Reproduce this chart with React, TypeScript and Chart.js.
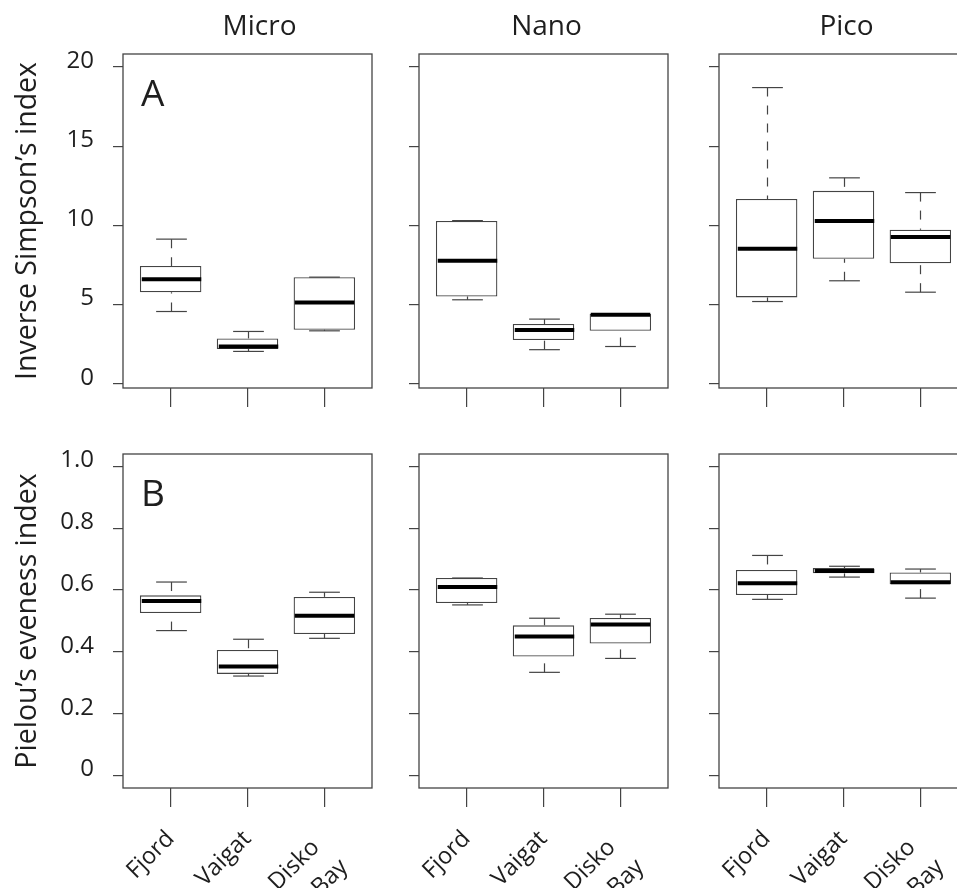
import React, { useEffect, useRef } from 'react';
import { Chart, registerables } from 'chart.js';

Chart.register(...registerables);

// ---------- data ----------
const COLUMNS = ['Micro', 'Nano', 'Pico'];
const GROUPS = ['Fjord', 'Vaigat', 'Disko Bay'];
const PANEL_LETTERS = ['A', 'B'];
const Y_TITLES = ['Inverse Simpson\u2019s index', 'Pielou\u2019s eveness index'];

const SIMPSON_TICKS = [0, 5, 10, 15, 20];
const SIMPSON_TICK_LABELS = ['0', '5', '10', '15', '20'];
const PIELOU_TICKS = [0, 0.2, 0.4, 0.6, 0.8, 1.0];
const PIELOU_TICK_LABELS = ['0', '0.2', '0.4', '0.6', '0.8', '1.0'];

// stats per group: [lower whisker, Q1, median, Q3, upper whisker]
const MICRO_SIMPSON = [
  [4.56, 5.78, 6.6, 7.44, 9.13],
  [2.04, 2.19, 2.35, 2.86, 3.3],
  [3.34, 3.41, 5.13, 6.73, 6.73],
];
const NANO_SIMPSON = [
  [5.3, 5.51, 7.76, 10.28, 10.3],
  [2.15, 2.76, 3.39, 3.77, 4.08],
  [2.35, 3.34, 4.35, 4.42, 4.42],
];
const PICO_SIMPSON = [
  [5.19, 5.45, 8.52, 11.67, 18.7],
  [6.5, 7.89, 10.28, 12.18, 13.0],
  [5.78, 7.61, 9.27, 9.72, 12.07],
];
const MICRO_PIELOU = [
  [0.469, 0.526, 0.565, 0.583, 0.626],
  [0.322, 0.329, 0.353, 0.406, 0.441],
  [0.444, 0.458, 0.517, 0.578, 0.593],
];
const NANO_PIELOU = [
  [0.552, 0.558, 0.61, 0.639, 0.639],
  [0.334, 0.385, 0.45, 0.486, 0.509],
  [0.379, 0.427, 0.489, 0.51, 0.522],
];
const PICO_PIELOU = [
  [0.57, 0.584, 0.622, 0.665, 0.712],
  [0.642, 0.654, 0.662, 0.671, 0.677],
  [0.574, 0.619, 0.625, 0.657, 0.668],
];

// ---------- styling / layout ----------
const FONT = "'Open Sans', 'DejaVu Sans', sans-serif";
const TEXT = '#1e1e1e';
const LINE = '#444444';
// trailing spaces nudge the two-line rotated label back along its baseline
const LABEL_PAD = ['  ', ' '];

const COL_LAYOUT = [
  { left: 0, width: 380, plotLeft: 123, titleDx: 12 },
  { left: 380, width: 300, plotLeft: 39, titleDx: 3 },
  { left: 680, width: 300, plotLeft: 39, titleDx: 3 },
];
const PLOT_W = 249;
const ROW_LAYOUT = [
  { top: 0, height: 420, padTop: 54, xh: 32, ymin: -0.27, ymax: 20.82 },
  { top: 420, height: 468, padTop: 34, xh: 100, ymin: -0.04, ymax: 1.04 },
];

const boxPlugin = {
  id: 'boxWhisker',
  afterDatasetsDraw(chart: any, _args: any, opts: any) {
    const { ctx } = chart;
    const x = chart.scales.x;
    const y = chart.scales.y;
    const stats: number[][] = opts.stats || [];
    const seg = (x1: number, y1: number, x2: number, y2: number) => {
      ctx.beginPath();
      ctx.moveTo(x1, y1);
      ctx.lineTo(x2, y2);
      ctx.stroke();
    };
    ctx.save();
    stats.forEach((s, i) => {
      const cx = Math.round(x.getPixelForValue(i + 1)) + 0.5;
      const halfBox = x.getPixelForValue(i + 1.4) - x.getPixelForValue(i + 1);
      const halfCap = x.getPixelForValue(i + 1.2) - x.getPixelForValue(i + 1);
      const yLo = y.getPixelForValue(s[0]);
      const yQ1 = y.getPixelForValue(s[1]);
      const yMed = y.getPixelForValue(s[2]);
      const yQ3 = y.getPixelForValue(s[3]);
      const yHi = y.getPixelForValue(s[4]);
      ctx.strokeStyle = LINE;
      ctx.lineWidth = 1.2;
      ctx.setLineDash([9, 9]);
      if (yQ3 - yHi > 1) seg(cx, yHi, cx, yQ3);
      if (yLo - yQ1 > 1) seg(cx, yLo, cx, yQ1);
      ctx.setLineDash([]);
      seg(cx - halfCap, yHi, cx + halfCap, yHi);
      seg(cx - halfCap, yLo, cx + halfCap, yLo);
      ctx.strokeStyle = '#000';
      ctx.lineWidth = 4;
      seg(cx - halfBox + 1, yMed, cx + halfBox - 1, yMed);
    });
    ctx.restore();
  },
};

const framePlugin = {
  id: 'frameText',
  afterDraw(chart: any, _args: any, opts: any) {
    const { ctx, chartArea: a } = chart;
    ctx.save();
    ctx.strokeStyle = LINE;
    ctx.lineWidth = 1.3;
    ctx.strokeRect(a.left, a.top, a.right - a.left, a.bottom - a.top);
    ctx.fillStyle = TEXT;
    if (opts.title) {
      ctx.font = `28px ${FONT}`;
      ctx.textAlign = 'center';
      ctx.textBaseline = 'middle';
      ctx.fillText(opts.title, (a.left + a.right) / 2 + (opts.titleDx || 0), 27);
    }
    if (opts.letter) {
      ctx.font = `37px ${FONT}`;
      ctx.textAlign = 'left';
      ctx.textBaseline = 'alphabetic';
      ctx.fillText(opts.letter, a.left + 18, a.top + 52);
    }
    ctx.restore();
  },
};

type PanelProps = { row: number; col: number; stats: number[][] };

function Panel({ row, col, stats }: PanelProps) {
  const ref = useRef<HTMLCanvasElement>(null);
  useEffect(() => {
    const c = COL_LAYOUT[col];
    const r = ROW_LAYOUT[row];
    const ticks = row === 0 ? SIMPSON_TICKS : PIELOU_TICKS;
    const tickLabels = row === 0 ? SIMPSON_TICK_LABELS : PIELOU_TICK_LABELS;
    const isBottom = row === 1;
    const isLeft = col === 0;
    const chart = new Chart(ref.current as HTMLCanvasElement, {
      type: 'bar',
      data: {
        datasets: [
          {
            data: stats.map((s, i) => ({ x: i + 1, y: [s[1], s[3]] })) as any,
            backgroundColor: '#ffffff',
            borderColor: LINE,
            borderWidth: 1.3,
            borderSkipped: false,
            categoryPercentage: 0.8,
            barPercentage: 1,
          } as any,
        ],
      },
      options: {
        responsive: false,
        animation: false,
        devicePixelRatio: 1,
        layout: {
          padding: { left: 0, right: c.width - c.plotLeft - PLOT_W, top: r.padTop, bottom: 0 },
        },
        plugins: {
          legend: { display: false },
          tooltip: { enabled: false },
          title: { display: false },
          boxWhisker: { stats },
          frameText: {
            title: row === 0 ? COLUMNS[col] : '',
            titleDx: c.titleDx,
            letter: isLeft ? PANEL_LETTERS[row] : '',
          },
        } as any,
        scales: {
          x: {
            type: 'linear',
            min: 0.38,
            max: 3.62,
            offset: false,
            afterBuildTicks: (s: any) => {
              s.ticks = GROUPS.map((_, i) => ({ value: i + 1 }));
            },
            afterFit: (s: any) => {
              s.height = r.xh;
              s.paddingLeft = 0;
              s.paddingRight = 0;
            },
            grid: {
              offset: false,
              drawOnChartArea: false,
              drawTicks: true,
              tickLength: 19,
              color: LINE,
              lineWidth: 1.2,
            },
            border: { display: false },
            ticks: {
              display: isBottom,
              autoSkip: false,
              minRotation: 45,
              maxRotation: 45,
              padding: 16,
              color: TEXT,
              font: { family: FONT, size: 23.5, lineHeight: 1.45 },
              callback: (_v: any, i: number) => {
                const parts = GROUPS[i].split(' ');
                return parts.length > 1 ? parts.map((p, k) => p + (LABEL_PAD[k] || '')) : parts;
              },
            },
          },
          y: {
            type: 'linear',
            min: r.ymin,
            max: r.ymax,
            afterBuildTicks: (s: any) => {
              s.ticks = ticks.map((v) => ({ value: v }));
            },
            afterFit: (s: any) => {
              s.width = c.plotLeft;
              s.paddingTop = 0;
              s.paddingBottom = 0;
            },
            grid: {
              drawOnChartArea: false,
              drawTicks: true,
              tickLength: 10,
              color: LINE,
              lineWidth: 1.2,
            },
            border: { display: false },
            ticks: {
              display: isLeft,
              padding: 19,
              labelOffset: -6,
              color: TEXT,
              font: { family: FONT, size: 24 },
              callback: (_v: any, i: number) => tickLabels[i],
            },
            title: {
              display: isLeft,
              text: Y_TITLES[row],
              color: TEXT,
              font: { family: FONT, size: 28.5 },
              padding: { top: 11, bottom: 0 },
            },
          },
        },
      } as any,
      plugins: [boxPlugin, framePlugin],
    });
    return () => chart.destroy();
  }, [row, col, stats]);

  const c = COL_LAYOUT[col];
  const r = ROW_LAYOUT[row];
  return (
    <canvas
      ref={ref}
      width={c.width}
      height={r.height}
      style={{ position: 'absolute', left: c.left, top: r.top, width: c.width, height: r.height }}
    />
  );
}

const PANELS = [
  [MICRO_SIMPSON, NANO_SIMPSON, PICO_SIMPSON],
  [MICRO_PIELOU, NANO_PIELOU, PICO_PIELOU],
];

export default function App() {
  return (
    <div
      style={{
        position: 'absolute',
        left: 0,
        top: 0,
        width: 957,
        height: 888,
        overflow: 'hidden',
        background: '#ffffff',
      }}
    >
      {PANELS.map((rowStats, row) =>
        rowStats.map((stats, col) => <Panel key={`${row}-${col}`} row={row} col={col} stats={stats} />)
      )}
    </div>
  );
}
